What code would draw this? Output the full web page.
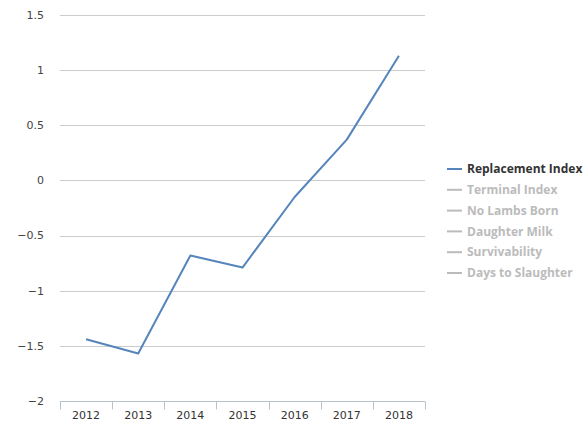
<!DOCTYPE html>
<html>
<head>
<meta charset="utf-8">
<script src="https://cdn.jsdelivr.net/npm/d3@7"></script>
<style>
  body { margin: 0; background: #fff; }
  text { font-family: "DejaVu Sans", "Open Sans", sans-serif; }
  .legend text { font-family: "Open Sans", "DejaVu Sans", sans-serif; }
</style>
</head>
<body>
<div id="chart"></div>
<script>
// Data
const years = ['2012', '2013', '2014', '2015', '2016', '2017', '2018'];
const replacementIndex = [-1.44, -1.57, -0.68, -0.79, -0.15, 0.37, 1.13];
const yTicks = [-2, -1.5, -1, -0.5, 0, 0.5, 1, 1.5];
const legendNames = ['Replacement Index', 'Terminal Index', 'No Lambs Born',
  'Daughter Milk', 'Survivability', 'Days to Slaughter'];

const width = 588;
const height = 424;
const margin = { top: 15, right: 163, bottom: 23, left: 60 };

const svg = d3
  .select('#chart')
  .append('svg')
  .attr('width', width)
  .attr('height', height);

const x = d3
  .scaleBand()
  .domain(years)
  .range([margin.left, width - margin.right]);

const y = d3
  .scaleLinear()
  .domain([-2, 1.5])
  .range([height - margin.bottom, margin.top]);

// Grid lines
svg
  .append('g')
  .selectAll('line')
  .data(yTicks.filter((d) => d !== -2))
  .enter()
  .append('line')
  .attr('x1', margin.left)
  .attr('x2', width - margin.right)
  .attr('y1', (d) => Math.round(y(d)) + 0.5)
  .attr('y2', (d) => Math.round(y(d)) + 0.5)
  .attr('stroke', '#cccccc')
  .attr('stroke-width', 1);

// Y labels
svg
  .append('g')
  .selectAll('text')
  .data(yTicks)
  .enter()
  .append('text')
  .attr('x', 44)
  .attr('y', (d) => y(d))
  .attr('dy', '0.35em')
  .attr('text-anchor', 'end')
  .style('font-size', '11px')
  .attr('fill', '#444')
  .text((d) => (d < 0 ? '\u2212' + Math.abs(d) : d));

// X axis
const xAxis = svg
  .append('g')
  .attr('transform', `translate(0,${Math.round(y(-2)) + 0.5})`);

xAxis
  .append('line')
  .attr('x1', margin.left)
  .attr('x2', width - margin.right)
  .attr('stroke', '#b8c2cc');

const bounds = years.map((d) => x(d)).concat([width - margin.right]);
xAxis
  .selectAll('.tick')
  .data(bounds)
  .enter()
  .append('line')
  .attr('x1', (d) => Math.round(d) + 0.5)
  .attr('x2', (d) => Math.round(d) + 0.5)
  .attr('y1', 0)
  .attr('y2', 8)
  .attr('stroke', '#b8c2cc');

xAxis
  .selectAll('text')
  .data(years)
  .enter()
  .append('text')
  .attr('x', (d) => x(d) + x.bandwidth() / 2)
  .attr('y', 17)
  .attr('text-anchor', 'middle')
  .style('font-size', '11px')
  .attr('fill', '#333')
  .text((d) => d);

// Line
const line = d3
  .line()
  .x((d, i) => x(years[i]) + x.bandwidth() / 2)
  .y((d) => y(d));

svg
  .append('path')
  .datum(replacementIndex)
  .attr('d', line)
  .attr('fill', 'none')
  .attr('stroke', '#5585bb')
  .attr('stroke-width', 2)
  .attr('stroke-linejoin', 'round');

// Legend
const legend = svg
  .selectAll('.legend')
  .data(legendNames)
  .enter()
  .append('g')
  .attr('class', 'legend')
  .attr('transform', (d, i) => `translate(447,${169 + i * 20.8})`);

legend
  .append('line')
  .attr('x1', 0)
  .attr('x2', 15)
  .attr('stroke', (d, i) => (i === 0 ? '#5585bb' : '#bbb'))
  .attr('stroke-width', 2);

legend
  .append('text')
  .attr('x', 20)
  .attr('dy', '0.35em')
  .style('font-size', '12px')
  .style('font-weight', 'bold')
  .attr('fill', (d, i) => (i === 0 ? '#333' : '#bbb'))
  .text((d) => d);
</script>
</body>
</html>
